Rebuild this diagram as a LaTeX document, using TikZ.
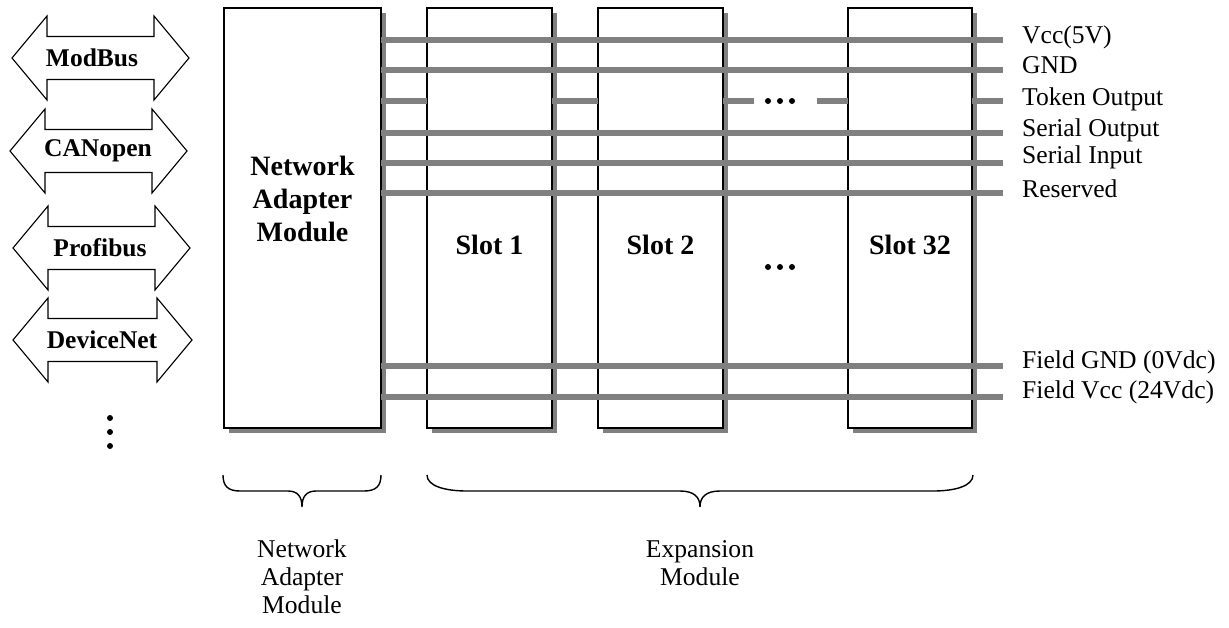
\documentclass[tikz,border=0pt]{standalone}
\usepackage{fontspec}
\setmainfont{Liberation Serif}
\usetikzlibrary{shadows}
\definecolor{busgray}{RGB}{128,128,128}
\newcommand\netarrow[6]{% name, left tip x, right tip x, centre y, label x, label
  \draw[darrow] (#2,#4) -- (#2+35,#4-42) -- (#2+35,#4-21.5) -- (#3-35,#4-21.5) -- (#3-35,#4-42)
    -- (#3,#4) -- (#3-35,#4+42) -- (#3-35,#4+21.5) -- (#2+35,#4+21.5) -- (#2+35,#4+42) -- cycle;
  \node[arrowlabel] (#1) at (#5,#4) {#6};
}
\begin{document}
\begin{tikzpicture}[x=1pt,y=-1pt,
  box/.style={draw=black, line width=1.4pt, fill=white, inner sep=0pt, outer sep=0pt,
    anchor=north west, minimum height=420pt,
    drop shadow={shadow xshift=5pt, shadow yshift=-5pt, fill=busgray, opacity=1}},
  bus/.style={draw=busgray, line width=5.2pt},
  darrow/.style={draw=black, line width=1.1pt, fill=white, line join=miter},
  boxlabel/.style={font=\fontsize{28}{33}\selectfont\bfseries, align=center, inner sep=0pt},
  arrowlabel/.style={font=\fontsize{25.5}{30}\selectfont\bfseries, inner sep=0pt},
  sig/.style={font=\fontsize{25.6}{30}\selectfont, anchor=base west, inner sep=0pt},
  brace/.style={draw=black, line width=1.4pt},
  caption/.style={font=\fontsize{25.6}{28}\selectfont, align=center, anchor=north, inner sep=0pt},
  blob/.style={fill=black, circle, inner sep=0pt, minimum size=6pt}
]
\useasboundingbox (0,0) rectangle (1229,627);

% protocol arrows
\netarrow{modbus}{12}{189}{58}{92}{ModBus}
\netarrow{canopen}{10}{187}{151}{98}{CANopen}
\netarrow{profibus}{13}{190}{248}{100}{Profibus}
\netarrow{devicenet}{13}{192}{340}{102}{DeviceNet}
\node[blob] (ld1) at (110,418) {};
\node[blob] (ld2) at (110,432) {};
\node[blob] (ld3) at (110,446) {};

% modules
\node[box, minimum width=157pt] (nam) at (224,8) {};
\node[box, minimum width=125pt] (s1) at (427,8) {};
\node[box, minimum width=125pt] (s2) at (598,8) {};
\node[box, minimum width=124pt] (s32) at (848,8) {};

\node[boxlabel] (namtxt) at (302.5,199) {Network\\Adapter\\Module};
\node[boxlabel] (s1txt) at (489.5,245) {Slot 1};
\node[boxlabel] (s2txt) at (660.5,245) {Slot 2};
\node[boxlabel] (s32txt) at (910,245) {Slot 32};
\node[blob] (md1) at (768,267) {};
\node[blob] (md2) at (780,267) {};
\node[blob] (md3) at (792,267) {};

% bus lines
\coordinate (bvcc) at (1003,40);
\coordinate (bgnd) at (1003,70);
\coordinate (btok) at (1003,101);
\coordinate (bso) at (1003,133);
\coordinate (bsi) at (1003,163);
\coordinate (bres) at (1003,193);
\coordinate (bfg) at (1003,366);
\coordinate (bfv) at (1003,397);
\foreach \c in {bvcc,bgnd,bso,bsi,bres,bfg,bfv}
  \draw[bus] (\c -| nam.east) -- (\c);
\coordinate (tokA) at (754,101);
\coordinate (tokB) at (817,101);
\draw[bus] (btok -| nam.east) -- (btok -| s1.west);
\draw[bus] (btok -| s1.east) -- (btok -| s2.west);
\draw[bus] (btok -| s2.east) -- (tokA);
\draw[bus] (tokB) -- (btok -| s32.west);
\draw[bus] (btok -| s32.east) -- (btok);
\node[blob] (td1) at (768,101) {};
\node[blob] (td2) at (780,101) {};
\node[blob] (td3) at (792,101) {};

% signal names
\node[sig] (lvcc) at (1022,43) {Vcc(5V)};
\node[sig] (lgnd) at (1022,73.5) {GND};
\node[sig] (ltok) at (1022,105) {Token Output};
\node[sig] (lso) at (1022,136.5) {Serial Output};
\node[sig] (lsi) at (1022,163) {Serial Input};
\node[sig] (lres) at (1022,197) {Reserved};
\node[sig] (lfg) at (1022,368.5) {Field GND (0Vdc)};
\node[sig] (lfv) at (1022,398.5) {Field Vcc (24Vdc)};

% braces
\draw[brace] (223,475) .. controls (223,486) and (228,491) .. (240,491) -- (288,491)
  .. controls (298,491) and (302,497) .. (302,507)
  .. controls (302,497) and (306,491) .. (316,491) -- (364,491)
  .. controls (376,491) and (381,486) .. (381,475);
\draw[brace] (427,475) .. controls (427,486) and (445,491) .. (467,491) -- (680,491)
  .. controls (694,491) and (700,497) .. (700,507)
  .. controls (700,497) and (706,491) .. (720,491) -- (933,491)
  .. controls (955,491) and (973,486) .. (973,475);

\node[caption] (namcap) at (302,540) {Network\\Adapter\\Module};
\node[caption] (expcap) at (700,540) {Expansion\\Module};
\end{tikzpicture}
\end{document}
